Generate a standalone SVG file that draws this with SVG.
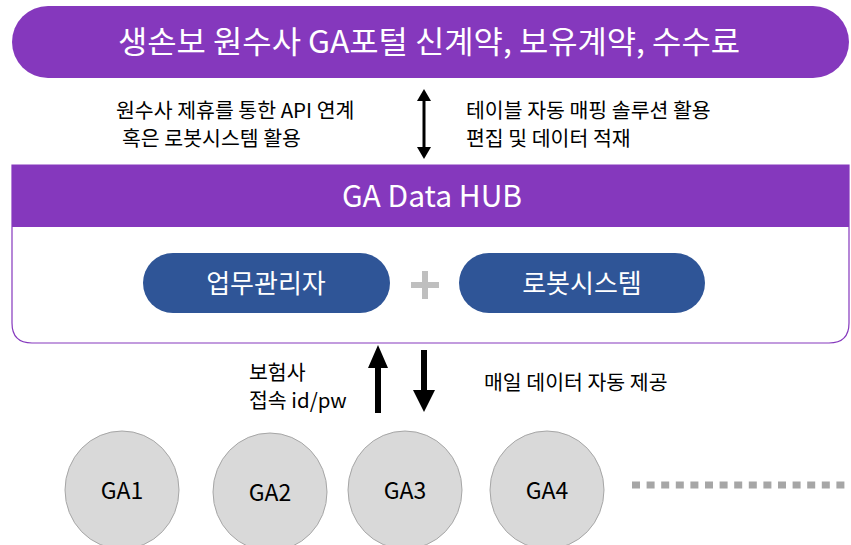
<svg xmlns="http://www.w3.org/2000/svg" width="851" height="545" viewBox="0 0 851 545">
<style>
text{font-family:"Noto Sans CJK KR","Noto Sans",sans-serif;}
.w{fill:#fff}
.k{fill:#000;font-size:20.5px}
.ga{fill:#000;font-size:23px;text-anchor:middle}
.pill{fill:#2F5597}
.circ{fill:#D9D9D9;stroke:#A6A6A6;stroke-width:1}
</style>
<defs>
<marker id="ah" markerWidth="12" markerHeight="14" refX="6" refY="7" orient="auto-start-reverse" markerUnits="userSpaceOnUse" viewBox="0 0 12 14">
<path d="M0,0 L12,7 L0,14 Z" fill="#000"/>
</marker>
</defs>
<g id="top">
<rect x="12" y="6" width="837" height="72" rx="36" fill="#8538BD"/>
<text x="429" y="53" class="w" font-size="31" text-anchor="middle" textLength="622" lengthAdjust="spacingAndGlyphs">생손보 원수사 GA포털 신계약, 보유계약, 수수료</text>
</g>
<g id="hub">
<path d="M12,165 H849 V323 Q849,343 829,343 H32 Q12,343 12,323 Z" fill="#fff" stroke="#8538BD" stroke-width="1.2"/>
<rect x="12" y="165" width="837" height="62" fill="#8538BD"/>
<text x="432" y="207" class="w" font-size="30" text-anchor="middle">GA Data HUB</text>
</g>
<g id="manager">
<rect x="143" y="253" width="247" height="60" rx="30" class="pill"/>
<text x="266" y="293" class="w" font-size="26" text-anchor="middle">업무관리자</text>
</g>
<g id="plus">
<path d="M425,271 V299 M411,285 H439" stroke="#BFBFBF" stroke-width="6"/>
</g>
<g id="robot">
<rect x="459" y="253" width="246" height="60" rx="30" class="pill"/>
<text x="582" y="293" class="w" font-size="26" text-anchor="middle">로봇시스템</text>
</g>
<g id="connectors">
<line x1="424" y1="95" x2="424" y2="153" stroke="#000" stroke-width="3" marker-start="url(#ah)" marker-end="url(#ah)"/>
<path d="M375,413 V368 H368 L378,345 L388,368 H381 V413 Z" fill="#000"/>
<path d="M421,350 V390 H413 L424,412 L435,390 H427 V350 Z" fill="#000"/>
</g>
<g id="labels">
<text x="116" y="118" class="k">원수사 제휴를 통한 API 연계</text>
<text x="122" y="146" class="k">혹은 로봇시스템 활용</text>
<text x="466" y="118" class="k">테이블 자동 매핑 솔루션 활용</text>
<text x="466" y="146" class="k">편집 및 데이터 적재</text>
<text x="249" y="380" class="k">보험사</text>
<text x="249" y="408" class="k">접속 id/pw</text>
<text x="484" y="390" class="k">매일 데이터 자동 제공</text>
</g>
<g id="ga1"><ellipse cx="122" cy="490" rx="57" ry="59" class="circ"/><text x="122" y="499" class="ga">GA1</text></g>
<g id="ga2"><ellipse cx="270" cy="492" rx="57" ry="59" class="circ"/><text x="270" y="501" class="ga">GA2</text></g>
<g id="ga3"><ellipse cx="405" cy="490" rx="57" ry="59" class="circ"/><text x="405" y="499" class="ga">GA3</text></g>
<g id="ga4"><ellipse cx="547" cy="490" rx="57" ry="59" class="circ"/><text x="547" y="499" class="ga">GA4</text></g>
<g id="more">
<line x1="632" y1="485" x2="851" y2="485" stroke="#A6A6A6" stroke-width="7" stroke-dasharray="8 6.6"/>
</g>
</svg>
